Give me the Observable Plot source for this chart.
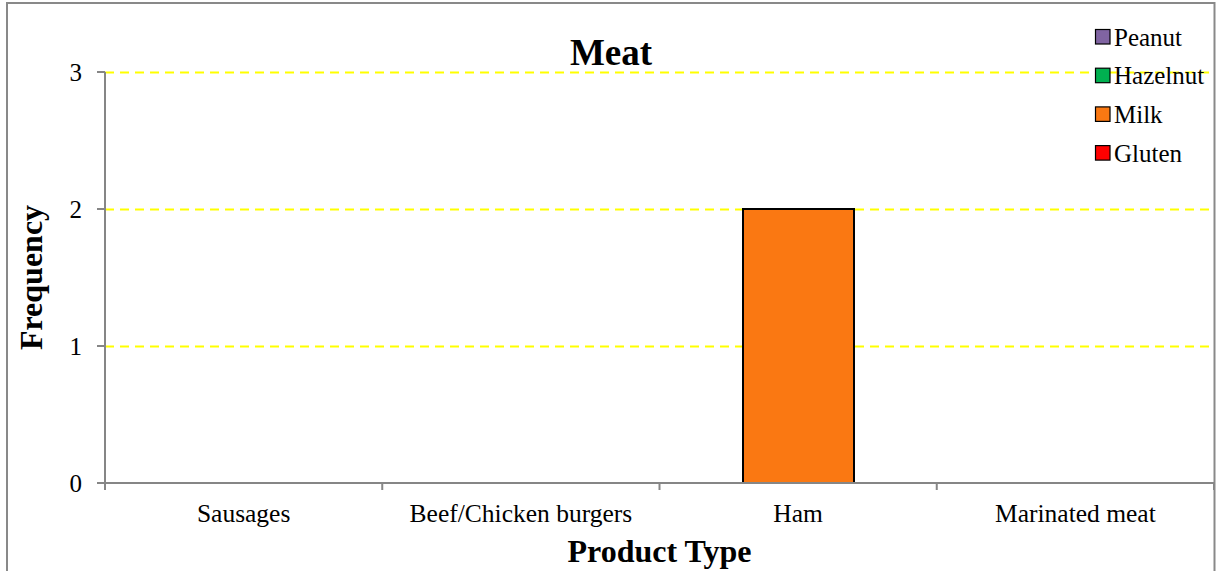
<!DOCTYPE html>
<html>
<head>
<meta charset="utf-8">
<script src="https://cdn.jsdelivr.net/npm/d3@7"></script>
<script src="https://cdn.jsdelivr.net/npm/@observablehq/plot@0.6"></script>
<style>
  html, body { margin: 0; padding: 0; background: #ffffff; }
  #chart { width: 1217px; height: 571px; overflow: hidden; }
</style>
</head>
<body>
<div id="chart"></div>
<script>
// Product categories along the x axis
const categories = ["Sausages", "Beef/Chicken burgers", "Ham", "Marinated meat"];

// Allergen series, stacked bottom to top
const seriesNames = ["Gluten", "Milk", "Hazelnut", "Peanut"];
const seriesColors = ["#FF0000", "#FA7812", "#00B050", "#8064A2"];

// Frequency per category for each allergen
const gluten   = [0, 0, 0, 0];
const milk     = [0, 0, 2, 0];
const hazelnut = [0, 0, 0, 0];
const peanut   = [0, 0, 0, 0];

const yTicks = [0, 1, 2, 3];
const chartTitle = "Meat";
const xTitle = "Product Type";
const yTitle = "Frequency";

const seriesValues = [gluten, milk, hazelnut, peanut];
const rows = [];
seriesNames.forEach((name, i) => {
  seriesValues[i].forEach((v, j) => {
    if (v > 0) rows.push({ category: categories[j], series: name, value: v });
  });
});

const W = 1217, H = 571;
const serif = "'Liberation Serif', 'Times New Roman', serif";
const axisGray = "#868686";

const chart = Plot.plot({
  width: W,
  height: H,
  marginTop: 72,
  marginBottom: 88,
  marginLeft: 105,
  marginRight: 3,
  style: { fontFamily: serif, background: "#ffffff", overflow: "visible" },
  x: { domain: categories, paddingInner: 0.6, paddingOuter: 0.3, axis: null },
  y: { domain: [0, 3], axis: null },
  color: { domain: seriesNames, range: seriesColors },
  marks: [
    Plot.ruleY(yTicks.filter(d => d > 0), {
      stroke: "#FFFF00", strokeWidth: 2, strokeDasharray: "9,6"
    }),
    Plot.barY(rows, {
      x: "category", y: "value", fill: "series",
      stroke: "#000000", strokeWidth: 2
    })
  ]
});

document.getElementById("chart").appendChild(chart);

// Rebuild the scales Plot used so the axes line up with the bars
const xs = chart.scale("x");
const ysd = chart.scale("y");
const x = d3.scaleBand()
  .domain(xs.domain)
  .range(xs.range)
  .paddingInner(xs.paddingInner)
  .paddingOuter(xs.paddingOuter)
  .align(xs.align ?? 0.5);
const y = d3.scaleLinear().domain(ysd.domain).range(ysd.range);

const svg = d3.select(chart);
const left = xs.range[0], right = xs.range[1];
const y0 = y(0), yTop = y(3);
const step = x.step(), bw = x.bandwidth();

const axes = svg.append("g").attr("fill", "none").attr("stroke", axisGray).attr("stroke-width", 2);

// y axis line (continues a little below the baseline like the category ticks)
axes.append("line").attr("x1", left).attr("x2", left).attr("y1", yTop).attr("y2", y0 + 7);
// y ticks
yTicks.forEach(t => {
  axes.append("line").attr("x1", left - 8).attr("x2", left).attr("y1", y(t)).attr("y2", y(t));
});
// x axis line
axes.append("line").attr("x1", left - 8).attr("x2", right).attr("y1", y0).attr("y2", y0);
// category boundary ticks
const bounds = categories.map(c => x(c) + bw / 2 - step / 2);
bounds.push(x(categories[categories.length - 1]) + bw / 2 + step / 2);
bounds.forEach(b => {
  axes.append("line").attr("x1", b).attr("x2", b).attr("y1", y0).attr("y2", y0 + 7);
});

const txt = svg.append("g").attr("font-family", serif).attr("fill", "#000");

// y tick labels
yTicks.forEach(t => {
  txt.append("text")
    .attr("x", left - 23).attr("y", y(t)).attr("dy", "0.35em")
    .attr("text-anchor", "end").attr("font-size", 25)
    .text(t);
});

// category labels
categories.forEach(c => {
  txt.append("text")
    .attr("x", x(c) + bw / 2).attr("y", y0 + 21).attr("dy", "0.71em")
    .attr("text-anchor", "middle").attr("font-size", 25.5)
    .text(c);
});

// axis titles
txt.append("text")
  .attr("x", (left + right) / 2).attr("y", 562)
  .attr("text-anchor", "middle").attr("font-size", 32).attr("font-weight", "bold")
  .text(xTitle);
txt.append("text")
  .attr("transform", `translate(42,${(yTop + y0) / 2}) rotate(-90)`)
  .attr("text-anchor", "middle").attr("font-size", 32).attr("font-weight", "bold")
  .text(yTitle);

// chart title, centred on the outer frame
txt.append("text")
  .attr("x", 611).attr("y", 65)
  .attr("text-anchor", "middle").attr("font-size", 37).attr("font-weight", "bold")
  .text(chartTitle);

// legend, listed top series first
const legend = svg.append("g").attr("font-family", serif);
const legendOrder = seriesNames.map((n, i) => ({ name: n, color: seriesColors[i] })).reverse();
legendOrder.forEach((d, i) => {
  const cy = 37 + i * 38.7;
  legend.append("rect")
    .attr("x", 1095.5).attr("y", cy - 7.5).attr("width", 14.5).attr("height", 14.5)
    .attr("fill", d.color).attr("stroke", "#000").attr("stroke-width", 1.2);
  legend.append("text")
    .attr("x", 1114).attr("y", cy).attr("dy", "0.35em")
    .attr("text-anchor", "start")
    .attr("font-size", 25).attr("fill", "#000")
    .text(d.name);
});

// outer frame
svg.append("rect")
  .attr("x", 7).attr("y", 3).attr("width", 1207.5).attr("height", 620)
  .attr("fill", "none").attr("stroke", "#898989").attr("stroke-width", 2);
</script>
</body>
</html>
